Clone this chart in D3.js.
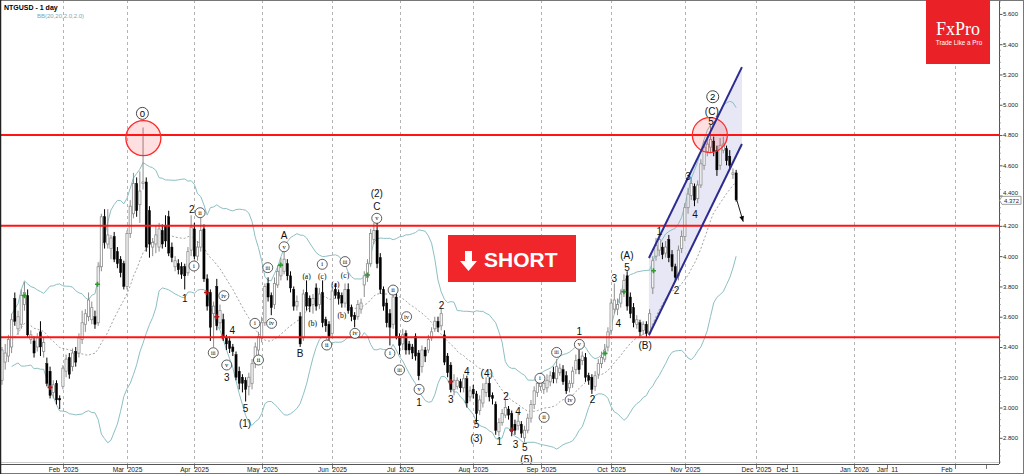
<!DOCTYPE html>
<html><head><meta charset="utf-8">
<script src="https://cdn.jsdelivr.net/npm/d3@7"></script>
<style>body{margin:0;background:#fff;}svg{display:block;}</style>
</head><body><svg id="c" width="1024" height="474"></svg>
<script>
// ---------- DATA ----------
const symbolTitle = "NTGUSD - 1 day";
const indicatorTitle = "BB(20,20,2.0,2.0)";
const startDate = "2025-01-07";
const holidays = ["2025-04-18"];
// daily candles [open, high, low, close]
const ohlc = [
[3.18,3.40,3.15,3.38],[3.30,3.42,3.25,3.36],[3.34,3.48,3.30,3.45],[3.40,3.62,3.36,3.58],[3.72,3.76,3.54,3.57],
[3.52,3.64,3.48,3.60],[3.55,3.78,3.52,3.74],[3.68,3.83,3.64,3.76],[3.74,3.78,3.46,3.48],[3.45,3.51,3.42,3.48],
[3.44,3.47,3.33,3.36],[3.40,3.49,3.37,3.46],[3.50,3.57,3.34,3.40],[3.37,3.46,3.33,3.43],[3.29,3.33,3.14,3.16],
[3.24,3.27,3.06,3.08],[3.10,3.18,3.06,3.15],[3.16,3.18,3.02,3.05],[3.06,3.08,2.99,3.05],[3.14,3.28,3.12,3.26],
[3.24,3.35,3.20,3.32],[3.33,3.36,3.19,3.22],[3.27,3.39,3.24,3.36],[3.37,3.40,3.27,3.30],[3.36,3.49,3.33,3.46],
[3.45,3.64,3.42,3.56],[3.55,3.65,3.50,3.62],[3.60,3.76,3.57,3.71],[3.58,3.70,3.55,3.66],[3.60,3.64,3.52,3.55],
[3.56,3.96,3.54,3.93],[3.93,4.28,3.90,4.26],[4.26,4.31,4.05,4.09],[4.08,4.31,4.05,4.14],[4.05,4.14,3.98,4.12],
[4.13,4.16,3.96,3.98],[4.03,4.06,3.92,3.95],[3.98,4.00,3.86,3.89],[3.95,3.97,3.78,3.80],[3.80,4.17,3.78,4.15],
[4.15,4.37,4.12,4.33],[4.28,4.55,4.25,4.48],[4.48,4.52,4.26,4.30],[4.34,4.56,4.22,4.43],[4.48,4.85,4.44,4.49],
[4.49,4.52,4.03,4.06],[4.30,4.33,3.99,4.08],[4.06,4.12,4.00,4.09],[4.08,4.20,4.02,4.14],[4.06,4.22,4.03,4.18],
[4.17,4.21,4.05,4.08],[4.20,4.27,4.06,4.10],[4.26,4.30,4.00,4.02],[4.06,4.09,3.96,3.99],[3.93,4.00,3.90,3.97],
[3.95,3.98,3.88,3.91],[3.93,3.96,3.85,3.88],[3.93,3.95,3.78,3.87],[3.89,4.06,3.87,4.03],[4.04,4.27,4.00,4.19],
[4.18,4.22,3.98,4.00],[4.00,4.10,3.97,4.06],[4.06,4.26,4.03,4.17],[4.18,4.21,3.83,3.85],[3.85,3.88,3.64,3.67],
[3.76,3.78,3.44,3.53],[3.62,3.70,3.40,3.67],[3.80,3.85,3.51,3.54],[3.56,3.68,3.52,3.64],[3.58,3.62,3.44,3.47],
[3.46,3.48,3.38,3.42],[3.44,3.47,3.36,3.39],[3.40,3.42,3.34,3.37],[3.35,3.37,3.18,3.20],[3.24,3.27,3.12,3.16],
[3.20,3.22,3.10,3.16],[3.18,3.20,3.04,3.12],[3.14,3.23,3.08,3.20],[3.16,3.32,3.12,3.29],[3.29,3.43,3.26,3.40],
[3.38,3.50,3.30,3.47],[3.46,3.60,3.43,3.56],[3.56,3.82,3.54,3.80],[3.82,3.86,3.70,3.73],[3.74,3.76,3.61,3.66],
[3.68,3.86,3.65,3.82],[3.81,3.94,3.79,3.90],[3.87,3.99,3.84,3.95],[3.90,4.03,3.88,3.98],[3.95,3.98,3.84,3.87],
[3.87,3.90,3.76,3.79],[3.78,3.80,3.64,3.67],[3.67,3.74,3.64,3.70],[3.60,3.63,3.40,3.42],[3.46,3.78,3.44,3.75],
[3.76,3.84,3.64,3.67],[3.72,3.74,3.63,3.67],[3.68,3.75,3.62,3.72],[3.79,3.82,3.64,3.67],[3.68,3.79,3.65,3.75],
[3.76,3.84,3.53,3.56],[3.58,3.60,3.50,3.54],[3.55,3.57,3.44,3.47],[3.49,3.80,3.47,3.77],[3.78,3.82,3.72,3.74],
[3.76,3.78,3.68,3.72],[3.74,3.76,3.66,3.69],[3.69,3.82,3.66,3.78],[3.78,3.82,3.62,3.64],[3.66,3.68,3.57,3.60],
[3.61,3.63,3.53,3.58],[3.60,3.71,3.58,3.68],[3.65,3.72,3.62,3.69],[3.81,3.90,3.73,3.87],[3.86,3.98,3.83,3.95],
[3.95,4.18,3.93,4.15],[4.11,4.22,4.08,4.17],[4.17,4.24,3.92,3.95],[3.99,4.02,3.75,3.78],[3.78,3.80,3.64,3.67],
[3.69,3.72,3.53,3.56],[3.62,3.65,3.41,3.53],[3.55,3.76,3.52,3.73],[3.73,3.76,3.45,3.47],[3.47,3.49,3.35,3.41],
[3.42,3.52,3.38,3.48],[3.49,3.51,3.35,3.38],[3.42,3.44,3.35,3.38],[3.40,3.42,3.32,3.36],[3.47,3.49,3.31,3.34],
[3.36,3.38,3.18,3.21],[3.27,3.41,3.23,3.38],[3.38,3.40,3.30,3.34],[3.38,3.48,3.36,3.45],[3.46,3.53,3.44,3.50],
[3.52,3.60,3.50,3.57],[3.57,3.60,3.50,3.53],[3.54,3.66,3.51,3.62],[3.48,3.51,3.28,3.30],[3.34,3.36,3.20,3.23],
[3.28,3.30,3.10,3.12],[3.12,3.22,3.08,3.18],[3.14,3.20,3.12,3.18],[3.17,3.19,3.10,3.13],[3.13,3.22,3.10,3.19],
[3.19,3.21,3.00,3.03],[3.07,3.14,3.04,3.11],[3.12,3.15,3.06,3.09],[3.09,3.11,2.90,2.96],[2.98,3.08,2.95,3.05],
[3.03,3.16,3.00,3.12],[3.10,3.20,3.07,3.16],[3.16,3.20,3.04,3.07],[3.08,3.10,3.02,3.06],[3.02,3.04,2.82,2.85],
[2.84,2.93,2.81,2.90],[2.90,2.99,2.88,2.96],[2.95,3.05,2.93,3.00],[2.99,3.01,2.92,2.95],[2.96,2.98,2.81,2.84],
[2.89,2.92,2.82,2.85],[2.88,2.97,2.85,2.91],[2.89,2.91,2.80,2.83],[2.80,2.88,2.77,2.85],[2.85,2.96,2.83,2.93],
[2.93,3.05,2.90,3.02],[3.02,3.14,2.99,3.11],[3.10,3.20,3.07,3.16],[3.14,3.23,3.11,3.19],[3.12,3.19,3.09,3.16],
[3.13,3.22,3.10,3.18],[3.17,3.24,3.14,3.21],[3.23,3.27,3.16,3.19],[3.19,3.32,3.16,3.27],[3.23,3.29,3.21,3.26],
[3.25,3.28,3.15,3.17],[3.21,3.24,3.09,3.11],[3.13,3.18,3.10,3.16],[3.16,3.27,3.13,3.24],[3.25,3.35,3.22,3.31],
[3.32,3.38,3.22,3.25],[3.31,3.37,3.28,3.34],[3.33,3.36,3.17,3.20],[3.21,3.23,3.15,3.18],[3.20,3.22,3.09,3.12],
[3.14,3.24,3.11,3.21],[3.22,3.32,3.19,3.29],[3.29,3.37,3.26,3.33],[3.32,3.42,3.30,3.38],[3.40,3.53,3.37,3.50],
[3.51,3.72,3.48,3.69],[3.65,3.82,3.62,3.71],[3.65,3.72,3.61,3.68],[3.69,3.78,3.66,3.75],[3.76,3.88,3.73,3.84],
[3.87,3.90,3.64,3.67],[3.73,3.76,3.59,3.62],[3.66,3.69,3.53,3.56],[3.55,3.61,3.52,3.58],[3.56,3.58,3.47,3.50],
[3.51,3.57,3.48,3.55],[3.55,3.57,3.46,3.49],[3.49,3.65,3.47,3.62],[3.79,4.00,3.75,3.97],[4.00,4.12,3.97,4.07],
[4.04,4.14,4.00,4.11],[4.06,4.09,3.98,4.01],[4.02,4.10,3.99,4.06],[4.11,4.14,3.96,3.99],[4.01,4.04,3.90,3.93],
[3.93,3.95,3.83,3.86],[3.87,4.07,3.84,4.04],[4.05,4.17,4.02,4.13],[4.13,4.35,4.10,4.32],[4.32,4.45,4.28,4.41],
[4.40,4.52,4.37,4.48],[4.46,4.48,4.33,4.37],[4.38,4.50,4.35,4.47],[4.47,4.64,4.45,4.61],[4.60,4.76,4.57,4.72],
[4.69,4.80,4.66,4.74],[4.72,4.87,4.68,4.77],[4.76,4.79,4.66,4.69],[4.70,4.73,4.53,4.57],[4.60,4.78,4.57,4.73],
[4.70,4.79,4.68,4.74],[4.71,4.73,4.60,4.63],[4.66,4.70,4.57,4.60],[4.54,4.58,4.51,4.55],[4.55,4.57,4.36,4.372]
];
const lastPrice = 4.372;
const priceTicks = [2.8,3.0,3.2,3.4,3.6,3.8,4.0,4.2,4.4,4.6,4.8,5.0,5.2,5.4,5.6];
const levels = [4.8, 4.2, 3.465];
// future axis slots beyond last bar
const futureTicks = [
  {label:"Dec 2025", slot:235.2, grid:true},
  {label:"Dec 11", slot:244.9, grid:false},
  {label:"Jan 2026", slot:265.8, grid:true},
  {label:"Jan 11", slot:276.0, grid:false},
  {label:"Feb", slot:297.3, grid:true, end:true},
  {label:"", slot:306.9, grid:false}
];
// wave annotations: [text, style, barIndex, price]
const waveLabels = [
["0","C",43.8,4.943],["2","n",59.2,4.309],["ii","c",61.8,4.287],["i","c",59.9,3.935],["1","n",57,3.721],
["iv","c",69.2,3.739],["iii","c",65.9,3.362],["4","n",71.8,3.512],["v","c",70.1,3.281],["3","n",70.1,3.197],
["5","n",76,2.995],["(1)","n",75.8,2.896],["i","c",78.9,3.556],["ii","c",80,3.314],["iii","c",82.9,3.924],
["iv","c",84.1,3.556],["v","c",88,4.062],["A","n",88,4.139],["B","n",93,3.358],["(a)","s",95,3.864],
["(b)","s",96.9,3.556],["i","c",99.9,3.946],["(c)","s",99.9,3.864],["ii","c",101.3,3.413],["(a)","s",104,3.816],
["(b)","s",106,3.607],["iii","c",107,3.964],["(c)","s",107,3.875],["iv","c",110.1,3.490],["v","c",116.9,4.250],
["C","n",116.9,4.331],["(2)","n",116.9,4.415],["ii","c",122,3.776],["i","c",121,3.358],["iv","c",126.2,3.600],
["iii","c",124,3.248],["v","c",130.1,3.120],["1","n",130.1,3.034],["2","n",137.1,3.677],["3","n",140,3.050],
["4","n",145,3.241],["5","n",148,2.885],["(3)","n",148,2.797],["(4)","n",151.2,3.226],["2","n",157.2,3.072],
["1","n",155.1,2.774],["4","n",161,2.972],["3","n",160.2,2.759],["5","n",163.1,2.735],["(5)","n",163.6,2.658],
["i","c",167.8,3.193],["ii","c",169.1,2.935],["iii","c",173,3.364],["iv","c",177.2,3.050],["v","c",180.1,3.417],
["1","n",180.1,3.501],["2","n",184.2,3.050],["3","n",191,3.853],["4","n",192.2,3.556],["5","n",195,3.926],
["(A)","n",194.9,4.001],["(B)","n",200.6,3.413],["1","n",205,4.161],["2","n",210.4,3.776],["3","n",214,4.529],
["4","n",216.2,4.272],["5","n",221.2,4.888],["(C)","n",221.4,4.955],["2","C",221.7,5.053]
];
const greenMarks = [[7,3.739],[29.8,3.814],[86.9,3.941],[114,3.875],[188.1,3.358],[194,3.765],[203.2,3.904]];
const redMarks = [[15,3.133],[63.8,3.760],[67,3.600],[68.8,3.468],[140,3.171],[159,2.852]];
const highlightCircles = [[44.1,4.78],[220.8,4.80]];
const channelUpper = [[201.8,3.988],[230.8,5.249]];
const channelLower = [[201.8,3.479],[230.8,4.741]];
const projectionArrow = [[229.2,4.371],[231.2,4.228]];
const signalText = "SHORT";
const brand = "FxPro", brandTag = "Trade Like a Pro";

// ---------- SETUP ----------
const svg = d3.select("#c");
const plotR = 999, plotB = 464;
const x = d3.scaleLinear().domain([-0.62, 311.3]).range([0, 1000]);
const y = d3.scaleLinear().domain([2.627, 5.692]).range([plotB, 0]);
const fmtD = d3.timeFormat("%Y-%m-%d");
const dates = [];
for (let d = d3.timeParse("%Y-%m-%d")(startDate); dates.length < ohlc.length; d = d3.timeDay.offset(d,1)) {
  const wd = d.getDay();
  if (wd===0 || wd===6 || holidays.includes(fmtD(d))) continue;
  dates.push(d);
}
const closes = ohlc.map(d=>d[3]);

svg.append("rect").attr("width",1024).attr("height",474).attr("fill","#fff");
svg.append("defs").append("clipPath").attr("id","pc").append("rect")
  .attr("x",0).attr("y",0).attr("width",plotR).attr("height",plotB);
const g = svg.append("g").attr("clip-path","url(#pc)");

// month ticks
const monthTicks = [];
dates.forEach((d,i)=>{ if(i>0 && d.getMonth()!==dates[i-1].getMonth()) monthTicks.push({label:d3.timeFormat("%b %Y")(d), slot:i, grid:true}); });
const allTicks = monthTicks.concat(futureTicks);

// grid
g.selectAll("line.grid").data(allTicks.filter(t=>t.grid)).join("line")
  .attr("x1",t=>Math.round(x(t.slot))+0.5).attr("x2",t=>Math.round(x(t.slot))+0.5)
  .attr("y1",0).attr("y2",plotB).attr("stroke","#a0a0a0").attr("stroke-width",0.8).attr("stroke-dasharray","3,3");

// channel fill
const chPoly = [channelUpper[0],channelUpper[1],channelLower[1],channelLower[0]];
g.append("path").attr("d", d3.line().x(d=>x(d[0])).y(d=>y(d[1]))(chPoly)+"Z")
  .attr("fill","#e3e3f3").attr("opacity",0.85);

// Bollinger bands
const bb = closes.map((c,i)=>{
  const w = closes.slice(Math.max(0,i-19), i+1);
  const m = d3.mean(w); const sd = Math.sqrt(d3.mean(w, v=>(v-m)*(v-m)));
  return {i, m, u:m+2*sd, l:m-2*sd};
}).filter(d=>d.i>=3);
const ln = k => d3.line().x(d=>x(d.i)).y(d=>y(d[k]));
g.append("path").attr("d",ln("u")(bb)).attr("fill","none").attr("stroke","#8cbfc3").attr("stroke-width",1);
g.append("path").attr("d",ln("l")(bb)).attr("fill","none").attr("stroke","#8cbfc3").attr("stroke-width",1);
g.append("path").attr("d",ln("m")(bb)).attr("fill","none").attr("stroke","#8a8a8a").attr("stroke-width",0.8).attr("stroke-dasharray","2,2");

// candles
const cg = g.append("g");
ohlc.forEach((d,i)=>{
  const [o,h,l,c] = d; const up = c>=o; const cx = x(i);
  const col = up ? "#8c8c8c" : "#000";
  cg.append("line").attr("x1",cx).attr("x2",cx).attr("y1",y(h)).attr("y2",y(l)).attr("stroke",col).attr("stroke-width",1);
  const top = y(Math.max(o,c)), bot = y(Math.min(o,c));
  cg.append("rect").attr("x",cx-1.1).attr("y",top).attr("width",2.2).attr("height",Math.max(1,bot-top))
    .attr("fill",up?"#fff":"#000").attr("stroke",col).attr("stroke-width",up?0.8:0.4);
});

// signal marks
const mk = (arr,col)=>arr.forEach(([i,p])=>{
  const cx=x(i), cy=y(p);
  g.append("path").attr("d",`M${cx-2.5},${cy}H${cx+2.5}M${cx},${cy-2.5}V${cy+2.5}`).attr("stroke",col).attr("stroke-width",1.6);
});
mk(greenMarks,"#2e9a2e"); mk(redMarks,"#b01818");

// levels
g.selectAll("line.lvl").data(levels).join("line")
  .attr("x1",0).attr("x2",plotR).attr("y1",d=>y(d)).attr("y2",d=>y(d)).attr("stroke","#ff1414").attr("stroke-width",2);

// highlight circles
g.selectAll("circle.hl").data(highlightCircles).join("circle")
  .attr("cx",d=>x(d[0])).attr("cy",d=>y(d[1])).attr("r",17.5)
  .attr("fill","rgba(255,40,40,0.15)").attr("stroke","#ff2a2a").attr("stroke-width",1.3);

// channel lines
[channelUpper,channelLower].forEach(l=>g.append("line")
  .attr("x1",x(l[0][0])).attr("y1",y(l[0][1])).attr("x2",x(l[1][0])).attr("y2",y(l[1][1]))
  .attr("stroke","#2b2b90").attr("stroke-width",2));

// projection arrow
{
  const [a,b] = projectionArrow; const x1=x(a[0]),y1=y(a[1]),x2=x(b[0]),y2=y(b[1]);
  g.append("line").attr("x1",x1).attr("y1",y1).attr("x2",x2).attr("y2",y2).attr("stroke","#000").attr("stroke-width",0.9);
  const ang = Math.atan2(y2-y1,x2-x1), L=6, s=0.4;
  g.append("path").attr("d",`M${x2},${y2}L${x2-L*Math.cos(ang-s)},${y2-L*Math.sin(ang-s)}L${x2-L*Math.cos(ang+s)},${y2-L*Math.sin(ang+s)}Z`).attr("fill","#000");
}

// wave labels
waveLabels.forEach(([t,s,i,p])=>{
  const cx=x(i), cy=y(p);
  if (s==="c") {
    g.append("circle").attr("cx",cx).attr("cy",cy).attr("r",5).attr("fill","#fff").attr("stroke","#333").attr("stroke-width",0.8);
    g.append("text").attr("x",cx).attr("y",cy+2).attr("text-anchor","middle")
      .attr("font-family","Liberation Serif, serif").attr("font-size",t.length>2?5.5:6.5).attr("fill","#000").text(t);
  } else if (s==="C") {
    g.append("circle").attr("cx",cx).attr("cy",cy).attr("r",6).attr("fill","#fff").attr("stroke","#333").attr("stroke-width",0.9);
    g.append("text").attr("x",cx).attr("y",cy+3.3).attr("text-anchor","middle")
      .attr("font-family","Liberation Sans, Arial, sans-serif").attr("font-size",9.5).attr("fill","#000").text(t);
  } else if (s==="s") {
    g.append("text").attr("x",cx).attr("y",cy+2.5).attr("text-anchor","middle")
      .attr("font-family","Liberation Serif, serif").attr("font-size",7.5).attr("fill","#000").text(t);
  } else {
    g.append("text").attr("x",cx).attr("y",cy+3.5).attr("text-anchor","middle")
      .attr("font-family","Liberation Sans, Arial, sans-serif").attr("font-size",10).attr("fill","#111").text(t);
  }
});

// ---------- AXES ----------
svg.append("line").attr("x1",plotR+0.5).attr("x2",plotR+0.5).attr("y1",0).attr("y2",plotB).attr("stroke","#555");
svg.append("line").attr("x1",0).attr("x2",plotR).attr("y1",plotB+0.5).attr("y2",plotB+0.5).attr("stroke","#555");
svg.append("line").attr("x1",0).attr("x2",plotR).attr("y1",plotB-1.5).attr("y2",plotB-1.5).attr("stroke","#ccc");
const yAxis = d3.axisRight(y).tickValues(priceTicks).tickFormat(d3.format(".3f")).tickSize(3);
const ya = svg.append("g").attr("transform",`translate(${plotR+0.5},0)`).call(yAxis);
ya.select(".domain").remove();
ya.selectAll("text").attr("font-family","Liberation Sans, Arial, sans-serif").attr("font-size",6).attr("fill","#222").attr("x",3.5)
  .attr("dy", d => Math.abs(y(d)-y(lastPrice))<8 ? "-0.25em" : "0.32em");
ya.selectAll("line").attr("stroke","#555");
const minor = d3.range(2.64,5.69,0.04).filter(v=>!priceTicks.some(t=>Math.abs(t-v)<0.001));
svg.selectAll("line.minor").data(minor).join("line")
  .attr("x1",plotR).attr("x2",plotR+2).attr("y1",d=>y(d)).attr("y2",d=>y(d)).attr("stroke","#777").attr("stroke-width",0.6);

// last price tag
{
  const py = y(lastPrice);
  svg.append("path").attr("d",`M${plotR+0.5},${py+0.5}L${plotR+3},${py-3.5}H1021V${py+4.5}H${plotR+3}Z`)
    .attr("fill","#fff").attr("stroke","#777").attr("stroke-width",0.7);
  svg.append("text").attr("x",1004).attr("y",py+3).attr("font-family","Liberation Sans, Arial, sans-serif")
    .attr("font-size",6).attr("fill","#222").text(d3.format(".3f")(lastPrice));
}

// x labels
const xa = svg.append("g");
allTicks.forEach(t=>{
  const px = Math.round(x(t.slot))+0.5;
  xa.append("line").attr("x1",px).attr("x2",px).attr("y1",plotB).attr("y2",plotB+5).attr("stroke","#555").attr("stroke-width",0.8);
  if (t.label) xa.append("text").attr("x",t.end?px-3:px).attr("y",471.5).attr("text-anchor",t.end?"end":"middle")
    .attr("font-family","Liberation Sans, Arial, sans-serif").attr("font-size",6.6).attr("fill","#222")
    .attr("xml:space","preserve").text(t.label.replace(" ","  "));
});

// frame
svg.append("rect").attr("x",0.5).attr("y",0.5).attr("width",1023).attr("height",473).attr("fill","none").attr("stroke","#777");
svg.append("line").attr("x1",0.5).attr("x2",0.5).attr("y1",0).attr("y2",474).attr("stroke","#222").attr("stroke-width",1.5);

// titles
svg.append("text").attr("x",4).attr("y",10).attr("font-family","Liberation Sans, Arial, sans-serif")
  .attr("font-weight","bold").attr("font-size",7).attr("fill","#000").text(symbolTitle);
svg.append("text").attr("x",37).attr("y",18).attr("font-family","Liberation Sans, Arial, sans-serif")
  .attr("font-size",6).attr("fill","#7aaab2").text(indicatorTitle);

// logo
svg.append("rect").attr("x",926).attr("y",0).attr("width",64).attr("height",64).attr("fill","#ea2227");
svg.append("text").attr("x",958).attr("y",35).attr("text-anchor","middle").attr("font-family","Liberation Serif, serif")
  .attr("font-size",18).attr("fill","#fff").text(brand);
svg.append("text").attr("x",959).attr("y",45).attr("text-anchor","middle").attr("font-family","Liberation Sans, Arial, sans-serif")
  .attr("font-size",6.3).attr("fill","#fff").text(brandTag);

// SHORT badge
svg.append("rect").attr("x",448).attr("y",235).attr("width",128).attr("height",47).attr("fill","#f0262b");
svg.append("path").attr("d","M465,251H472V261H477L468.5,271L460,261H465Z").attr("fill","#fff");
svg.append("text").attr("x",484).attr("y",267).attr("font-family","Liberation Sans, Arial, sans-serif")
  .attr("font-weight","bold").attr("font-size",21).attr("fill","#fff").text(signalText);
</script></body></html>
